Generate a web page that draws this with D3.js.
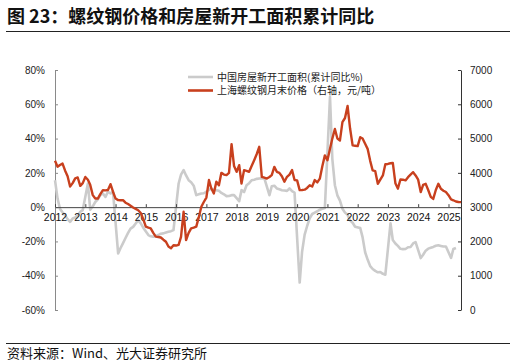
<!DOCTYPE html>
<html><head><meta charset="utf-8">
<script src="https://cdn.jsdelivr.net/npm/d3@7/dist/d3.min.js"></script>
<style>body{margin:0;background:#fff}svg{display:block}</style>
</head><body>
<svg id="c" width="516" height="363"></svg>
<script>
// ---- data ----
const startMonth = "2012-01";
const yearTicks = ["2012","2013","2014","2015","2016","2017","2018","2019","2020","2021","2022","2023","2024","2025"];
const leftTicks = [80,60,40,20,0,-20,-40,-60];
const rightTicks = [7000,6000,5000,4000,3000,2000,1000,0];
const seriesNames = ["中国房屋新开工面积(累计同比%)", "上海螺纹钢月末价格（右轴，元/吨）"];
// 上海螺纹钢月末价格 (元/吨), Jan 2012 - Jun 2025
const rebar2012 = [4350,4180,4230,4270,4070,3900,3600,3700,3840,3865,3620,3700];
const rebar2013 = [3880,3800,3650,3350,3250,3250,3380,3495,3490,3500,3670,3450];
const rebar2014 = [3250,3205,3200,3205,3130,3090,3040,2990,2950,2910,2830,2650];
const rebar2015 = [2430,2400,2380,2250,2140,2130,2115,2050,1990,1850,1800,1890];
const rebar2016 = [1880,1900,2130,2865,2040,2250,2380,2400,2430,2700,3010,3150];
const rebar2017 = [3280,3790,3550,3400,3740,3640,4000,3950,3935,4000,4835,4200];
const rebar2018 = [4030,4225,3690,4080,4060,4030,4200,4370,4550,4760,3885,3860];
const rebar2019 = [3835,3880,3935,4175,4030,4000,3900,3740,3885,3950,4080,3790];
const rebar2020 = [3780,3495,3500,3510,3560,3640,3600,3790,3720,3830,4200,4510];
const rebar2021 = [4370,4700,5000,5280,5000,4945,5480,5600,5950,5300,4800,4790];
const rebar2022 = [4780,5040,5000,4850,4700,4350,4070,4050,3680,3800,3925,4250];
const rebar2023 = [4260,4280,4290,3700,3540,3805,3800,3780,3875,3950,4020,3925];
const rebar2024 = [3800,3440,3650,3680,3500,3300,3240,3500,3680,3535,3480,3440];
const rebar2025 = [3350,3225,3200,3165,3150,3145];
// 中国房屋新开工面积累计同比 (%), null = no January release
const starts2012 = [15.7,5,-1,-3,-4.7,-7,-8.6,-6.6,-6,-5,-2.7,-1.7];
const starts2013 = [null,13.8,-1.5,0.5,3,4.5,7,8,6,9,8,9];
const starts2014 = [null,-27,-24,-21,-18,-15,-12.5,-11.5,-9.5,-7.6,-9.5,-12];
const starts2015 = [null,-16.3,-17,-17.3,-16.8,-16.3,-15.5,-15.3,-14.8,-14.4,-14,-13.4];
const starts2016 = [null,13.8,19,21.6,18.5,15.7,14.5,12.5,7,7.5,8,8.1];
const starts2017 = [null,10,10.9,10,9.9,9.5,8.3,7.5,6.4,6.5,7,7];
const starts2018 = [null,3.5,9.9,8.8,12.8,14,15.7,16,16.5,16.7,16.8,16.9];
const starts2019 = [null,7,12.2,12.5,10.9,10.4,9.9,9.7,9.5,10.9,9.3,8.5];
const starts2020 = [null,-44,-26,-16,-11,-6.5,-4,-3.2,-2.4,-1.5,-1,-0.5];
const starts2021 = [null,64.3,28.2,12.8,6.9,3.8,-0.9,-3.2,-4.5,-7.7,-9.1,-11.4];
const starts2022 = [null,-12.2,-17.5,-26.3,-30.6,-34.4,-36.1,-37.2,-38.0,-37.8,-38.9,-39.4];
const starts2023 = [null,-9.4,-19.2,-21.2,-22.6,-24.3,-24.5,-24.4,-23.4,-23.2,-21.2,-20.4];
const starts2024 = [null,-29.7,-27.8,-25.4,-24.2,-23.7,-23.2,-22.5,-22.2,-22.6,-23.0,-23.0];
const starts2025 = [null,-29.6,-24.4,-23.8,null,null];

const rebar = [].concat(rebar2012,rebar2013,rebar2014,rebar2015,rebar2016,rebar2017,rebar2018,rebar2019,rebar2020,rebar2021,rebar2022,rebar2023,rebar2024,rebar2025);
const starts = [].concat(starts2012,starts2013,starts2014,starts2015,starts2016,starts2017,starts2018,starts2019,starts2020,starts2021,starts2022,starts2023,starts2024,starts2025);

// ---- chart ----
const svg = d3.select("#c");
const L = 55, R = 461, T = 70, B = 310;
const parse = d3.timeParse("%Y-%m");
const t0 = parse(startMonth);
const months = rebar.map((_, i) => d3.timeMonth.offset(t0, i));
const x = d3.scaleTime().domain([months[0], months[months.length-1]]).range([L, R]);
const yL = d3.scaleLinear().domain([-60, 80]).range([B, T]);
const yR = d3.scaleLinear().domain([0, 7000]).range([B, T]);
const fontLat = "Liberation Sans, Arial, sans-serif";
const fontCJK = "'Noto Sans CJK SC', sans-serif";
const red = "#C8401E", gray = "#CBCBCB";

// title
svg.append("text").attr("x", 7).attr("y", 23).attr("font-family", fontCJK).attr("font-weight", "bold")
  .attr("font-size", 18).attr("fill", "#111").text("图 23：螺纹钢价格和房屋新开工面积累计同比");
svg.append("line").attr("x1", 6).attr("x2", 510).attr("y1", 31.5).attr("y2", 31.5).attr("stroke", "#222").attr("stroke-width", 1);
// source
svg.append("line").attr("x1", 6).attr("x2", 510).attr("y1", 343.5).attr("y2", 343.5).attr("stroke", "#222").attr("stroke-width", 1);
svg.append("text").attr("x", 7).attr("y", 358).attr("font-family", fontCJK).attr("font-size", 13)
  .attr("fill", "#111").text("资料来源：Wind、光大证券研究所");

// left axis
const gL = svg.append("g").attr("transform", `translate(${L},0)`)
  .call(d3.axisLeft(yL).tickValues(leftTicks).tickFormat(d => d + "%").tickSizeInner(-3).tickSizeOuter(0).tickPadding(10));
gL.select(".domain").attr("stroke", "#8a8a8a");
gL.selectAll(".tick line").attr("stroke", "#8a8a8a");
gL.selectAll("text").attr("font-family", fontLat).attr("font-size", 10).attr("fill", "#222");

// right axis
const gR = svg.append("g").attr("transform", `translate(${R},0)`)
  .call(d3.axisRight(yR).tickValues(rightTicks).tickFormat(d3.format("d")).tickSizeInner(-3).tickSizeOuter(0).tickPadding(9));
gR.select(".domain").attr("stroke", "#333");
gR.selectAll(".tick line").attr("stroke", "#333");
gR.selectAll("text").attr("font-family", fontLat).attr("font-size", 10).attr("fill", "#222");

// lines
const lineS = d3.line().x(d => x(d.t)).y(d => yL(d.v));
const sData = months.map((t, i) => ({t, v: starts[i]})).filter(d => d.v !== null && d.v !== undefined);
svg.append("path").datum(sData).attr("d", lineS).attr("fill", "none").attr("stroke", gray)
  .attr("stroke-width", 2.6).attr("stroke-linejoin", "round");

// x axis at 0%
const gX = svg.append("g").attr("transform", `translate(0,${yL(0)})`)
  .call(d3.axisBottom(x).tickValues(yearTicks.map(y => parse(y + "-01"))).tickFormat(d3.timeFormat("%Y"))
    .tickSizeInner(-3).tickSizeOuter(0).tickPadding(6));
gX.select(".domain").attr("stroke", "#444");
gX.selectAll(".tick line").attr("stroke", "#444");
gX.selectAll("text").attr("font-family", fontLat).attr("font-size", 10.5).attr("fill", "#111");

const lineR = d3.line().x((d, i) => x(months[i])).y(d => yR(d));
svg.append("path").datum(rebar).attr("d", lineR).attr("fill", "none").attr("stroke", red)
  .attr("stroke-width", 2.4).attr("stroke-linejoin", "round");

// legend
const lg = svg.append("g");
[gray, red].forEach((c, i) => {
  const yy = 77 + i * 13.5;
  lg.append("line").attr("x1", 188).attr("x2", 213).attr("y1", yy).attr("y2", yy).attr("stroke", c).attr("stroke-width", 2.6);
  lg.append("text").attr("x", 217).attr("y", yy + 3.6).attr("font-family", fontCJK).attr("font-size", 10)
    .attr("fill", "#222").text(seriesNames[i]);
});
</script>
</body></html>
